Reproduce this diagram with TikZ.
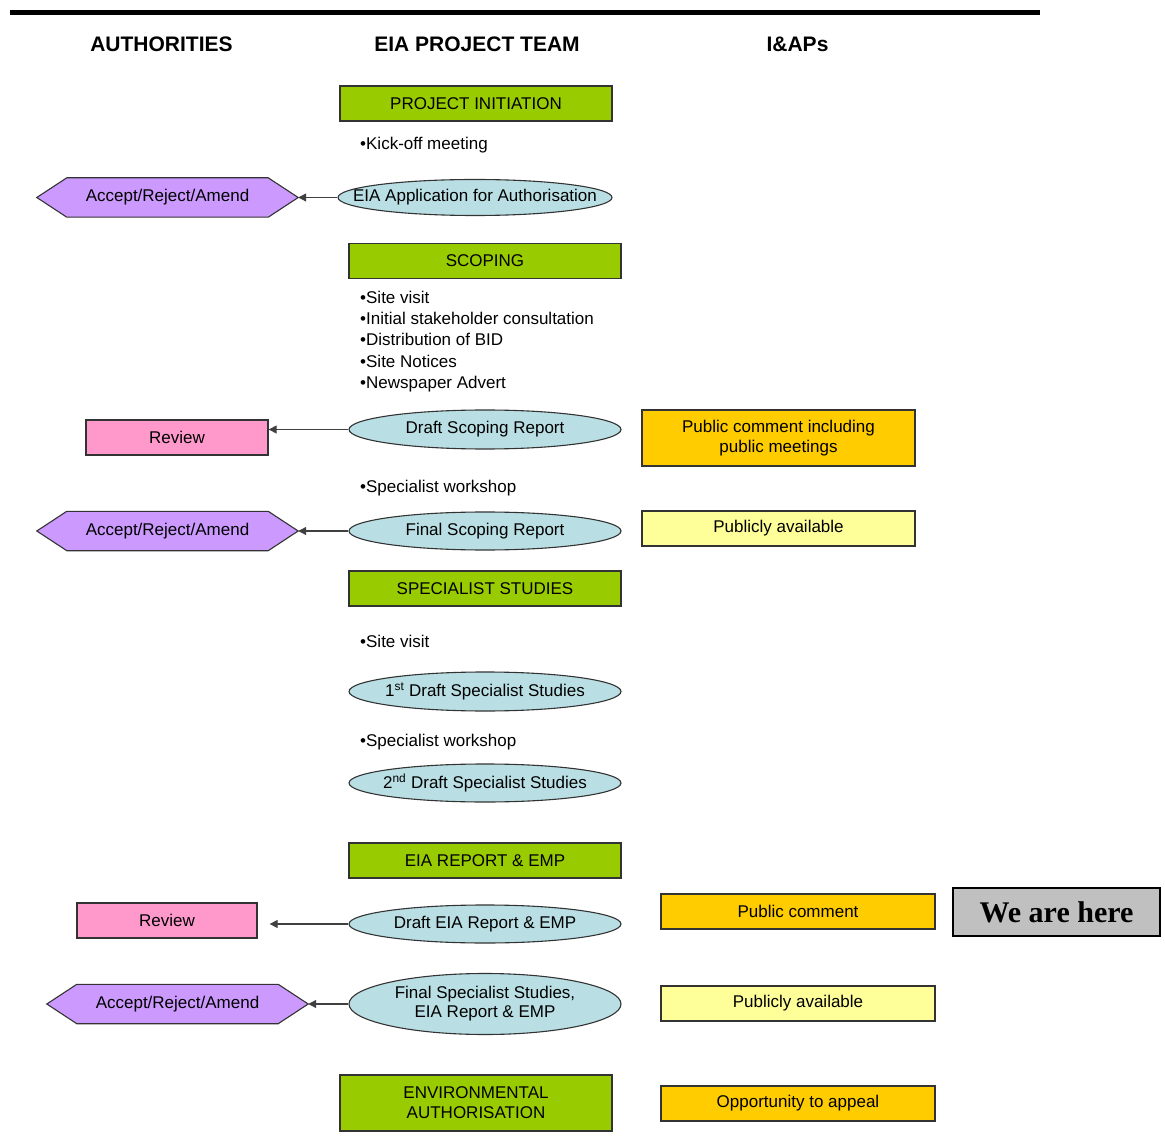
\documentclass[tikz,border=0pt]{standalone}
\usepackage{fontspec}
\setmainfont{Liberation Sans}
\newfontfamily\herefont{Liberation Serif}
\usetikzlibrary{shapes.geometric,arrows.meta}
\pgfdeclarelayer{hexbg}
\pgfsetlayers{hexbg,main}
\definecolor{cgreen}{HTML}{99CC00}
\definecolor{cpurple}{HTML}{CC99FF}
\definecolor{cpink}{HTML}{FF99CC}
\definecolor{cblue}{HTML}{B9DFE4}
\definecolor{corange}{HTML}{FFCC00}
\definecolor{cyellow}{HTML}{FFFF99}
\definecolor{cgray}{HTML}{C0C0C0}
\definecolor{cedge}{HTML}{333333}
\newcommand\zw[1]{\makebox[0pt][c]{#1}}
\begin{document}
\begin{tikzpicture}[x=1pt,y=-1pt,
  every node/.style={font=\fontsize{17}{20.5}\selectfont, inner sep=0pt, text=black},
  head/.style={font=\fontsize{21}{24}\selectfont\bfseries},
  phase/.style={draw=cedge, line width=1.3pt, fill=cgreen, minimum width=272pt, minimum height=35pt, align=center},
  doc/.style={ellipse, draw=cedge, line width=1.1pt, fill=cblue, minimum width=272pt, minimum height=38pt},
  hexa/.style={minimum width=261pt, minimum height=39pt,
    append after command={\pgfextra{\begin{pgfonlayer}{hexbg}
      \draw[draw=cedge, line width=1.1pt, fill=cpurple]
        (\tikzlastnode.west) -- ([xshift=30pt]\tikzlastnode.north west) -- ([xshift=-30pt]\tikzlastnode.north east)
        -- (\tikzlastnode.east) -- ([xshift=-30pt]\tikzlastnode.south east) -- ([xshift=30pt]\tikzlastnode.south west) -- cycle;
      \end{pgfonlayer}}}},
  review/.style={draw=cedge, line width=1.3pt, fill=cpink, minimum width=182pt, minimum height=35pt},
  iap/.style={draw=cedge, line width=1.3pt, minimum width=274pt, minimum height=35pt, align=center},
  bullet/.style={anchor=west, align=left},
  arr/.style={draw=black!75, line width=1.1pt, -{Triangle[length=8pt,width=8pt]}}
]
\useasboundingbox (0,0) rectangle (1165,1147);
\draw[line width=5pt] (10,13) -- (1040,13);

\node[head] (hA) at (161.5,44) {AUTHORITIES};
\node[head] (hE) at (477,44) {EIA PROJECT TEAM};
\node[head] (hI) at (797.5,44) {I\&APs};

\node[phase] (pi) at (476,103.5) {PROJECT INITIATION};
\node[bullet] (kick) at (360,145) {•Kick-off meeting};
\node[hexa] (h1) at (167.5,197.5) {Accept/Reject/Amend};
\node[doc, minimum width=274pt, minimum height=36pt] (e1) at (475,197.5) {\zw{EIA Application for Authorisation}};
\draw[arr] (e1.west) -- (h1.east);

\node[phase] (sc) at (485,261) {SCOPING};
\node[bullet, font=\fontsize{17}{21.3}\selectfont] (list) at (360,341.5) {•Site visit\\•Initial stakeholder consultation\\•Distribution of BID\\•Site Notices\\•Newspaper Advert};

\node[review] (r1) at (177,437.5) {Review};
\node[doc, minimum height=39pt] (e2) at (485,429.5) {\zw{Draft Scoping Report}};
\draw[arr] (e2.west) -- (r1.east |- e2.west);
\node[iap, fill=corange, minimum width=273pt, minimum height=56pt] (pc1) at (778.5,438) {Public comment including\\public meetings};

\node[bullet] (sw1) at (360,488) {•Specialist workshop};
\node[hexa] (h2) at (167.5,531) {Accept/Reject/Amend};
\node[doc] (e3) at (485,531) {\zw{Final Scoping Report}};
\draw[arr] (e3.west) -- (h2.east);
\node[iap, fill=cyellow, minimum width=273pt] (pa1) at (778.5,528.5) {Publicly available};

\node[phase] (ss) at (485,588.5) {SPECIALIST STUDIES};
\node[bullet] (sv2) at (360,641) {•Site visit};
\node[doc, minimum height=39pt] (e4) at (485,691.5) {\zw{1\textsuperscript{st} Draft Specialist Studies}};
\node[bullet] (sw2) at (360,742) {•Specialist workshop};
\node[doc] (e5) at (485,783) {\zw{2\textsuperscript{nd} Draft Specialist Studies}};

\node[phase] (er) at (485,860.5) {EIA REPORT \& EMP};
\node[review, minimum width=180pt] (r2) at (167,920.5) {Review};
\node[doc] (e6) at (485,924) {\zw{Draft EIA Report \& EMP}};
\draw[arr, shorten >=12pt] (e6.west) -- (r2.east |- e6.west);
\node[iap, fill=corange] (pc2) at (798,911.5) {Public comment};
\node[draw=black, line width=2pt, fill=cgray, minimum width=207pt, minimum height=48pt, font=\herefont\fontsize{30}{33}\selectfont\bfseries] (here) at (1056.5,912) {We are here};

\node[hexa] (h3) at (177.5,1004) {Accept/Reject/Amend};
\node[doc, minimum height=61pt] (e7) at (485,1004) {\zw{\begin{tabular}{@{}c@{}}Final Specialist Studies,\\[-1pt]EIA Report \& EMP\end{tabular}}};
\draw[arr] (e7.west) -- (h3.east);
\node[iap, fill=cyellow] (pa2) at (798,1003.5) {Publicly available};

\node[phase, minimum height=56pt, font=\fontsize{17}{20}\selectfont] (ea) at (476,1103) {ENVIRONMENTAL\\AUTHORISATION};
\node[iap, fill=corange] (op) at (798,1103.5) {Opportunity to appeal};
\end{tikzpicture}
\end{document}
